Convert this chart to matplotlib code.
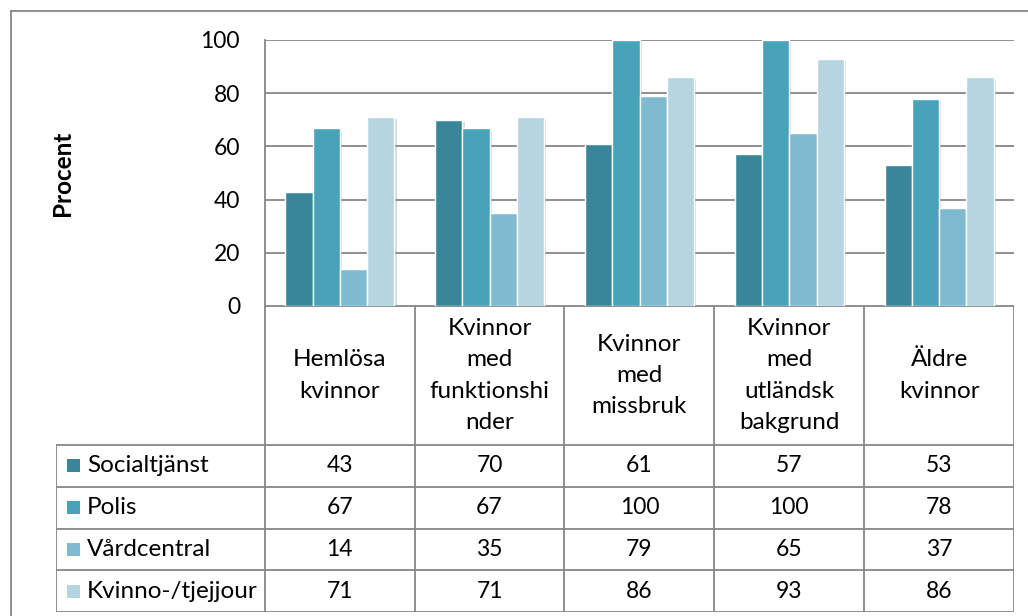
import numpy as np
import matplotlib.pyplot as plt
import matplotlib.patheffects as pe
from matplotlib.lines import Line2D
from matplotlib.patches import Rectangle

categories = ['Hemlösa\nkvinnor', 'Kvinnor\nmed\nfunktionshi\nnder', 'Kvinnor\nmed\nmissbruk',
              'Kvinnor\nmed\nutländsk\nbakgrund', 'Äldre\nkvinnor']
series = ['Socialtjänst', 'Polis', 'Vårdcentral', 'Kvinno-/tjejjour']
socialtjanst = [43, 70, 61, 57, 53]
polis = [67, 67, 100, 100, 78]
vardcentral = [14, 35, 79, 65, 37]
kvinnojour = [71, 71, 86, 93, 86]
values = [socialtjanst, polis, vardcentral, kvinnojour]
colors = ['#39869A', '#47A2BA', '#7FBBD0', '#B5D5E0']
yticks = [0, 20, 40, 60, 80, 100]

plt.rcParams['font.family'] = ['Lato', 'DejaVu Sans']
grid_c = '#878787'
fs = 17.5
fs_num = 16.5

W, H = 1028, 616
fig = plt.figure(figsize=(W / 100, H / 100), dpi=100)

# outer chart border (top and left visible)
fig.add_artist(Line2D([11 / W, 11 / W], [0, 1 - 11 / H], color=grid_c, lw=1.3))
fig.add_artist(Line2D([11 / W, 1], [1 - 11 / H, 1 - 11 / H], color=grid_c, lw=1.3))

# bar area
ax = fig.add_axes([265 / W, 1 - 306 / H, 749 / W, 266 / H])
x = np.arange(len(categories))
bw = 0.182
offsets = [-1.5, -0.5, 0.5, 1.5]
shadow = [pe.SimplePatchShadow(offset=(1.5, -1.5), shadow_rgbFace='#999999', alpha=0.35), pe.Normal()]
for vals, col, off in zip(values, colors, offsets):
    bars = ax.bar(x + off * bw, vals, width=bw, color=col, edgecolor='white', linewidth=1.0, zorder=3)
    for b in bars:
        b.set_path_effects(shadow)

ax.set_xlim(-0.5, len(categories) - 0.5)
ax.set_ylim(0, 100)
ax.set_yticks(yticks)
ax.set_yticklabels([str(t) for t in yticks], fontsize=fs_num)
ax.tick_params(axis='y', length=0, pad=18)
ax.set_xticks([])
ax.yaxis.grid(True, color=grid_c, linewidth=1.3, zorder=0)
ax.set_axisbelow(True)
for s in ['top', 'right', 'bottom']:
    ax.spines[s].set_visible(False)
ax.spines['left'].set_color(grid_c)
ax.spines['left'].set_linewidth(1.3)
ax.set_ylabel('Procent', fontsize=fs, fontweight='bold')
ax.yaxis.set_label_coords(-0.255, 0.5)

# data table below
tab = fig.add_axes([56 / W, 1 - 612 / H, 958 / W, 306 / H])
lab_w = 209 / 150
tab.set_xlim(-0.5 - lab_w, len(categories) - 0.5)
tab.set_ylim(306, 0)
tab.axis('off')
hdr = 139
rh = (306 - hdr) / 4
lkw = dict(color=grid_c, lw=1.3, solid_capstyle='butt')

# header cells
tab.plot([-0.5, len(categories) - 0.5], [0, 0], **lkw)
for i in range(len(categories) + 1):
    tab.plot([i - 0.5, i - 0.5], [0, 306], **lkw)
tab.plot([-0.5 - lab_w, -0.5 - lab_w], [hdr, 306], **lkw)
for r in range(5):
    tab.plot([-0.5 - lab_w, len(categories) - 0.5], [hdr + r * rh, hdr + r * rh], **lkw)

for i, c in enumerate(categories):
    tab.text(i, hdr / 2, c, ha='center', va='center', fontsize=fs, linespacing=1.6)

for r, (name, vals, col) in enumerate(zip(series, values, colors)):
    yc = hdr + (r + 0.5) * rh
    tab.add_patch(Rectangle((-0.5 - lab_w + 11 / 150, yc - 6.5), 13 / 150, 13,
                            facecolor=col, edgecolor='none'))
    tab.text(-0.5 - lab_w + 31 / 150, yc, name, ha='left', va='center', fontsize=fs)
    for i, v in enumerate(vals):
        tab.text(i, yc, str(v), ha='center', va='center', fontsize=fs_num)

fig.savefig('out.png', dpi=100, facecolor='white')
